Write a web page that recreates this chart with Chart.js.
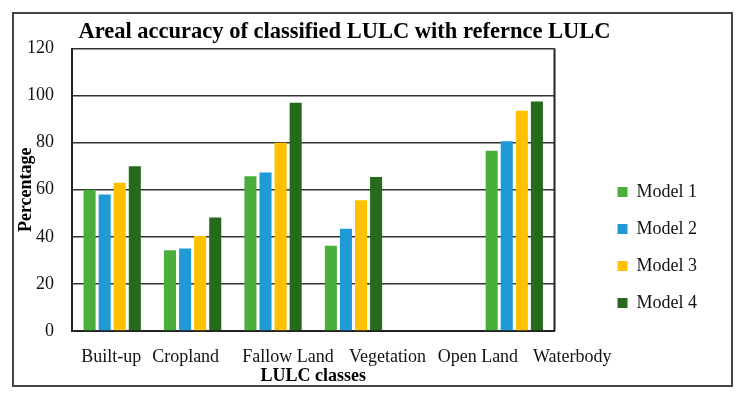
<!DOCTYPE html>
<html>
<head>
<meta charset="utf-8">
<script src="https://cdn.jsdelivr.net/npm/chart.js@4/dist/chart.umd.min.js"></script>
<style>
  html, body { margin: 0; padding: 0; background: #fff; }
  #wrap { position: relative; width: 742px; height: 399px; }
  #frame {
    position: absolute; left: 12px; top: 12px; width: 717px; height: 371px;
    border: 2px solid #444; pointer-events: none;
  }
</style>
</head>
<body>
<div id="wrap">
  <canvas id="lulcChart" width="742" height="399"></canvas>
  <div id="frame"></div>
</div>
<script>
// LULC classes on the x axis
const classes = ["Built-up", "Cropland", "Fallow Land", "Vegetation", "Open Land", "Waterbody"];

// areal accuracy (%) per model
const model1 = [60, 34.3, 65.7, 36.2, 0, 76.6];
const model2 = [58, 35, 67.3, 43.4, 0, 80.6];
const model3 = [63, 40.4, 80, 55.5, 0, 93.6];
const model4 = [70, 48.2, 97, 65.4, 0, 97.5];

const modelNames = ["Model 1", "Model 2", "Model 3", "Model 4"];
const modelColors = ["#4aae3c", "#1f9ad6", "#ffc000", "#276a1e"];

const serif = "'Liberation Serif', 'Times New Roman', serif";

const ctx = document.getElementById("lulcChart").getContext("2d");

new Chart(ctx, {
  type: "bar",
  data: {
    labels: classes,
    datasets: [model1, model2, model3, model4].map((vals, i) => ({
      label: modelNames[i],
      data: vals,
      backgroundColor: modelColors[i],
      borderWidth: 0,
      categoryPercentage: 0.75,
      barPercentage: 0.8,
    })),
  },
  options: {
    responsive: false,
    animation: false,
    layout: { padding: { left: 16, right: 35, top: 21, bottom: 14 } },
    plugins: {
      title: {
        display: true,
        text: "Areal accuracy of classified LULC with refernce LULC",
        color: "#000",
        font: { family: serif, size: 22.5, weight: "bold", lineHeight: 1 },
        padding: { top: 0, bottom: 5 },
      },
      legend: {
        position: "right",
        align: "end",
        fullSize: false,
        labels: {
          color: "#111",
          font: { family: serif, size: 18 },
          boxWidth: 10,
          boxHeight: 10,
          padding: 19,
        },
      },
      tooltip: { enabled: false },
    },
    scales: {
      x: {
        grid: { display: false, drawTicks: false },
        border: { display: true, color: "#222", width: 2 },
        ticks: {
          color: "#111",
          font: { family: serif, size: 18, lineHeight: 1 },
          padding: 17,
          maxRotation: 0,
          autoSkip: false,
        },
        title: {
          display: true,
          text: "LULC classes",
          color: "#000",
          font: { family: serif, size: 18, weight: "bold", lineHeight: 1 },
          padding: 0,
        },
        afterFit(scale) {
          scale.height = 54;
        },
      },
      y: {
        min: 0,
        max: 120,
        ticks: { stepSize: 20, color: "#111", font: { family: serif, size: 18 }, padding: 18 },
        grid: { color: "#333", lineWidth: 1.5, drawTicks: false },
        border: { display: true, color: "#222", width: 2 },
        title: {
          display: true,
          text: "Percentage",
          color: "#000",
          font: { family: serif, size: 18, weight: "bold" },
          padding: 0,
        },
        afterFit(scale) {
          scale.width = 56;
        },
      },
      // empty axis that only keeps the gap between the plot and the legend
      gap: {
        position: "right",
        display: true,
        grid: { display: false, drawTicks: false },
        border: { display: false },
        ticks: { display: false },
        afterFit(scale) {
          scale.width = 44;
        },
      },
    },
  },
  plugins: [{
    // title sits a bit left of the canvas centre in the original
    id: "titleShift",
    afterLayout(chart) {
      chart.titleBlock.right -= 34;
    },
  }, {
    // the original class labels are spread wider than the bar groups
    id: "labelSpread",
    beforeDraw(chart) {
      const nudge = [-1, -7, 15, 34, 44, 58];
      chart.scales.x.getLabelItems().forEach((item, i) => {
        if (item._nudged) return;
        item.options.translation[0] += nudge[i] || 0;
        item._nudged = true;
      });
    },
  }, {
    // right edge of the plot box
    id: "plotBox",
    afterDatasetsDraw(chart) {
      const { ctx, chartArea } = chart;
      ctx.save();
      ctx.strokeStyle = "#222";
      ctx.lineWidth = 2;
      ctx.beginPath();
      ctx.moveTo(chartArea.right, chartArea.top);
      ctx.lineTo(chartArea.right, chartArea.bottom);
      ctx.stroke();
      ctx.restore();
    },
  }],
});
</script>
</body>
</html>
